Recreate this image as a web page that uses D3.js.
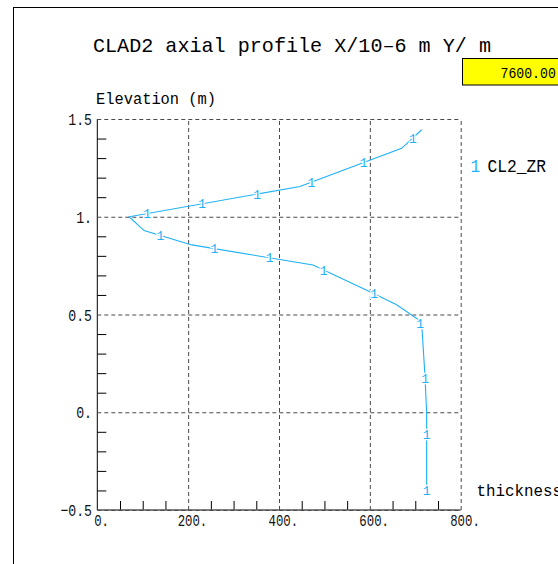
<!DOCTYPE html>
<html>
<head>
<meta charset="utf-8">
<script src="https://cdn.jsdelivr.net/npm/d3@7"></script>
<style>
  html, body { margin: 0; padding: 0; background: #fff; overflow: hidden; }
  svg { display: block; }
  text { font-family: "Liberation Mono", "DejaVu Sans Mono", monospace; }
</style>
</head>
<body>
<svg id="chart" width="558" height="564"></svg>
<script>
// Axial cladding thickness profile (X in 10^-6 m, Y = elevation in m)
const elevation = [-0.40, 0.00, 0.20, 0.42, 0.47, 0.55, 0.61, 0.753, 0.856, 0.929, 1.00, 1.155, 1.35, 1.445];
const thickness = [725, 725, 721, 715, 709, 659, 606, 475, 208, 103, 70, 446, 670, 714];

const xTickValues = [0, 200, 400, 600, 800];
const xTickLabels = ["0.", "200.", "400.", "600.", "800."];
const yTickValues = [-0.5, 0, 0.5, 1, 1.5];
const yTickLabels = ["\u22120.5", "0.", "0.5", "1.", "1.5"];

const seriesName = "CL2_ZR";
const seriesMark = "1";
const timeValue = "7600.00";

const svg = d3.select("#chart");
const lineColor = "#1eb1f7";
const gridColor = "#4a4a4a";

const x = d3.scaleLinear().domain([0, 800]).range([97.3, 460.7]);
const y = d3.scaleLinear().domain([-0.5, 1.5]).range([510, 119]);

// monospaced text fitted to a fixed cell width
function monoText(g, str, px, py, size, cell, anchor) {
  const w = str.length * cell;
  let x0 = px;
  if (anchor === "end") x0 = px - w;
  else if (anchor === "middle") x0 = px - w / 2;
  return g.append("text")
    .attr("x", x0).attr("y", py)
    .attr("font-size", size)
    .attr("textLength", w)
    .attr("lengthAdjust", "spacingAndGlyphs")
    .text(str);
}

// outer frame
svg.append("rect")
  .attr("x", 13.5).attr("y", 7.5)
  .attr("width", 700).attr("height", 700)
  .attr("fill", "none").attr("stroke", "#000").attr("stroke-width", 1);

// title
monoText(svg, "CLAD2 axial profile X/10\u20136 m Y/ m", 93, 52, 21, 12.06);

// time box
svg.append("rect")
  .attr("x", 462.5).attr("y", 58.5)
  .attr("width", 120).attr("height", 26.5)
  .attr("fill", "#ffff00").attr("stroke", "#000").attr("stroke-width", 1);
monoText(svg, timeValue, 500.5, 78, 15.5, 7.9);

// axis title
monoText(svg, "Elevation (m)", 96, 104, 16, 9.23);

// minor ticks
const yMinor = d3.range(-0.4, 1.5, 0.1).map(v => +v.toFixed(2)).filter(v => !yTickValues.includes(v));
const xMinor = d3.range(50, 800, 50).filter(v => !xTickValues.includes(v));

svg.append("g")
  .attr("transform", `translate(${x(0)},0)`)
  .call(d3.axisLeft(y).tickValues(yMinor).tickSize(-9).tickFormat(""))
  .call(g => g.select(".domain").remove())
  .call(g => g.selectAll("line").attr("stroke", "#000"));

svg.append("g")
  .attr("transform", `translate(0,${y(-0.5)})`)
  .call(d3.axisBottom(x).tickValues(xMinor).tickSize(-9).tickFormat(""))
  .call(g => g.select(".domain").remove())
  .call(g => g.selectAll("line").attr("stroke", "#000"));

// solid left axis and bottom axis
svg.append("line")
  .attr("x1", x(0)).attr("x2", x(0))
  .attr("y1", y(1.5)).attr("y2", y(-0.5))
  .attr("stroke", "#000").attr("stroke-width", 1);
svg.append("line")
  .attr("x1", x(0)).attr("x2", x(800))
  .attr("y1", y(-0.5)).attr("y2", y(-0.5))
  .attr("stroke", "#555").attr("stroke-width", 1.6);

// dashed grid at the major ticks
svg.append("g")
  .attr("transform", `translate(${x(0)},0)`)
  .call(d3.axisLeft(y).tickValues(yTickValues).tickSize(-(x(800) - x(0))).tickFormat(""))
  .call(g => g.select(".domain").remove())
  .call(g => g.selectAll("line")
    .attr("stroke", gridColor).attr("stroke-dasharray", "4,3"));

svg.append("g")
  .attr("transform", `translate(0,${y(-0.5)})`)
  .call(d3.axisBottom(x).tickValues(xTickValues.filter(v => v > 0)).tickSize(-(y(-0.5) - y(1.5))).tickFormat(""))
  .call(g => g.select(".domain").remove())
  .call(g => g.selectAll("line")
    .attr("stroke", gridColor).attr("stroke-dasharray", "4,3"));

// tick labels
const yLab = svg.append("g").attr("fill", "#111");
yTickValues.forEach((v, i) => {
  monoText(yLab, yTickLabels[i], 92, y(v) + 6, 17, 7.9, "end");
});
const xLab = svg.append("g").attr("fill", "#111");
xTickValues.forEach((v, i) => {
  const s = xTickLabels[i];
  const cell = 7.4;
  // digits centred on the tick, trailing point hangs to the right
  monoText(xLab, s, x(v) - (s.length - 1) * cell / 2 + 0.6, 526, 17, cell);
});

monoText(svg, "thickness", 476.5, 496, 17, 9.5);

// profile curve
const pts = elevation.map((e, i) => [thickness[i], e]);
const line = d3.line().x(d => x(d[0])).y(d => y(d[1]));
const path = svg.append("path")
  .datum(pts)
  .attr("d", line)
  .attr("fill", "none")
  .attr("stroke", lineColor)
  .attr("stroke-width", 1.1);

// curve identifiers placed at even arc-length steps along the path
const node = path.node();
const total = node.getTotalLength();
const step = 55.8;
const marks = svg.append("g")
  .attr("fill", lineColor)
  .attr("font-size", 13)
  .attr("text-anchor", "middle");
for (let s = 0; s <= total; s += step) {
  const p = node.getPointAtLength(s);
  marks.append("text")
    .attr("x", p.x).attr("y", p.y + 4.6)
    .attr("stroke", "#fff").attr("stroke-width", 2.5)
    .attr("paint-order", "stroke")
    .text(seriesMark);
}

// legend
svg.append("text")
  .attr("x", 470.5).attr("y", 171.7)
  .attr("font-size", 18.5)
  .attr("fill", lineColor)
  .attr("textLength", 9.7).attr("lengthAdjust", "spacingAndGlyphs")
  .text(seriesMark);
monoText(svg, seriesName, 487.5, 171.7, 18.5, 9.75);
</script>
</body>
</html>
